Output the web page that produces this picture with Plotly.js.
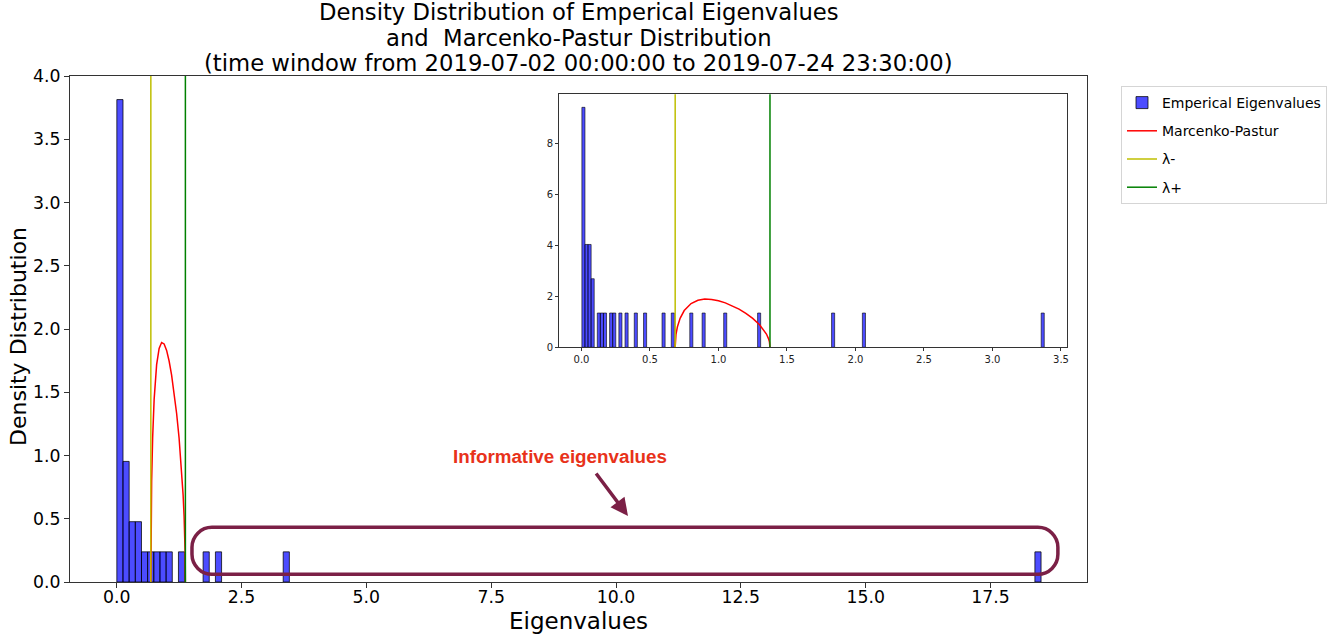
<!DOCTYPE html>
<html>
<head>
<meta charset="utf-8">
<script src="https://cdn.plot.ly/plotly-3.0.1.min.js"></script>
<style>html,body{margin:0;padding:0;background:#fff;}#chart{width:1340px;height:636px;}</style>
</head>
<body>
<div id="chart"></div>
<script>
const eigenvalues = [
  0.003, 0.006, 0.009, 0.012, 0.015, 0.019, 0.023,
  0.029, 0.036, 0.043,
  0.051, 0.058, 0.066,
  0.076, 0.087,
  0.124, 0.149, 0.172, 0.217, 0.239, 0.284, 0.329, 0.397, 0.464,
  0.599, 0.667, 0.802, 0.892, 1.053, 1.298,
  1.836, 2.060, 3.376,
  18.51
];
// Inset shows the eigenvalues without the largest one
const insetEigenvalues = eigenvalues.filter(v => v < 5);

// Marcenko-Pastur bounds
const lambdaMinus = 0.684;
const lambdaPlus = 1.376;

// Marcenko-Pastur density curve
const mpX = [0.684, 0.685, 0.690, 0.700, 0.720, 0.750, 0.800, 0.850, 0.900, 0.950, 1.000,
             1.050, 1.100, 1.150, 1.200, 1.250, 1.300, 1.330, 1.350, 1.365, 1.372, 1.376];
const mpY = [0.000, 0.241, 0.510, 0.798, 1.139, 1.443, 1.718, 1.847, 1.893, 1.882, 1.831,
             1.747, 1.636, 1.499, 1.334, 1.136, 0.886, 0.691, 0.521, 0.343, 0.213, 0.000];

// Tick labels
const mainXTicks = [0, 2.5, 5, 7.5, 10, 12.5, 15, 17.5];
const mainYTicks = [0, 0.5, 1, 1.5, 2, 2.5, 3, 3.5, 4];
const insetXTicks = [0, 0.5, 1, 1.5, 2, 2.5, 3, 3.5];
const insetYTicks = [0, 2, 4, 6, 8];

const titleLines = [
  'Density Distribution of Emperical Eigenvalues',
  'and  Marcenko-Pastur Distribution',
  '(time window from 2019-07-02 00:00:00 to 2019-07-24 23:30:00)'
];
const names = ['Emperical Eigenvalues', 'Marcenko-Pastur', 'λ-', 'λ+'];

const barFill = 'rgba(0,0,255,0.7)';
const barEdge = 'rgba(0,0,0,0.75)';
const red = '#ff0000', yel = '#bfbf00', grn = '#008000';

const traces = [
  {type: 'histogram', x: eigenvalues, histnorm: 'probability density',
   xbins: {start: 0.003, end: 18.52, size: 0.1234}, name: names[0], legendgroup: 'a',
   marker: {color: barFill, line: {color: barEdge, width: 1}}, xaxis: 'x', yaxis: 'y', hoverinfo: 'skip'},
  {type: 'scatter', mode: 'lines', x: mpX, y: mpY, name: names[1], legendgroup: 'b',
   line: {color: red, width: 1.5}, xaxis: 'x', yaxis: 'y'},
  {type: 'scatter', mode: 'lines', x: [lambdaMinus, lambdaMinus], y: [0, 100], name: names[2], legendgroup: 'c',
   line: {color: yel, width: 1.5}, xaxis: 'x', yaxis: 'y'},
  {type: 'scatter', mode: 'lines', x: [lambdaPlus, lambdaPlus], y: [0, 100], name: names[3], legendgroup: 'd',
   line: {color: grn, width: 1.5}, xaxis: 'x', yaxis: 'y'},
  // inset
  {type: 'histogram', x: insetEigenvalues, histnorm: 'probability density',
   xbins: {start: 0.003, end: 3.379, size: 0.0225}, showlegend: false,
   marker: {color: barFill, line: {color: barEdge, width: 0.8}}, xaxis: 'x2', yaxis: 'y2', hoverinfo: 'skip'},
  {type: 'scatter', mode: 'lines', x: mpX, y: mpY, showlegend: false,
   line: {color: red, width: 1.5}, xaxis: 'x2', yaxis: 'y2'},
  {type: 'scatter', mode: 'lines', x: [lambdaMinus, lambdaMinus], y: [0, 100], showlegend: false,
   line: {color: yel, width: 1.5}, xaxis: 'x2', yaxis: 'y2'},
  {type: 'scatter', mode: 'lines', x: [lambdaPlus, lambdaPlus], y: [0, 100], showlegend: false,
   line: {color: grn, width: 1.5}, xaxis: 'x2', yaxis: 'y2'}
];

// rounded rectangle around the informative eigenvalues
const rx0 = 1.508, rx1 = 18.85, ry0 = 0.061, ry1 = 0.432, cx = 0.40, cy = 0.158, k = 0.4477;
const roundPath =
  `M ${rx0 + cx},${ry1} L ${rx1 - cx},${ry1} ` +
  `C ${rx1 - cx * k},${ry1} ${rx1},${ry1 - cy * k} ${rx1},${ry1 - cy} ` +
  `L ${rx1},${ry0 + cy} ` +
  `C ${rx1},${ry0 + cy * k} ${rx1 - cx * k},${ry0} ${rx1 - cx},${ry0} ` +
  `L ${rx0 + cx},${ry0} ` +
  `C ${rx0 + cx * k},${ry0} ${rx0},${ry0 + cy * k} ${rx0},${ry0 + cy} ` +
  `L ${rx0},${ry1 - cy} ` +
  `C ${rx0},${ry1 - cy * k} ${rx0 + cx * k},${ry1} ${rx0 + cx},${ry1} Z`;

// pixel -> paper helpers for text placement (plot area 70..1087 x 76..582)
const px = v => (v - 70) / 1017;
const py = v => (582 - v) / 506;

const axisFont = {family: 'DejaVu Sans', size: 17.3, color: '#000'};
const titleFont = {family: 'DejaVu Sans', size: 22.7, color: '#000'};
const layout = {
  width: 1340, height: 636,
  paper_bgcolor: '#fff', plot_bgcolor: 'rgba(0,0,0,0)',
  margin: {l: 70, r: 253, t: 76, b: 54, pad: 0},
  barmode: 'overlay', bargap: 0,
  font: {family: 'DejaVu Sans', color: '#000'},
  showlegend: true,
  legend: {
    xref: 'container', yref: 'container',
    x: 1121 / 1340, y: (636 - 86) / 636, xanchor: 'left', yanchor: 'top',
    font: {family: 'DejaVu Sans', size: 14, color: '#000'},
    bordercolor: '#d5d5d5', borderwidth: 1, bgcolor: '#fff',
    tracegroupgap: 7, itemwidth: 30
  },
  xaxis: {
    domain: [0, 1], range: [-0.935, 19.433], anchor: 'y',
    tickvals: mainXTicks, ticktext: mainXTicks.map(v => v.toFixed(1)),
    ticks: 'outside', ticklen: 5, tickwidth: 1, tickcolor: '#333',
    ticklabelstandoff: -6,
    showline: true, mirror: true, linecolor: '#333', linewidth: 1,
    showgrid: false, zeroline: false, tickfont: axisFont
  },
  yaxis: {
    domain: [0, 1], range: [0, 4.0], anchor: 'x',
    tickvals: mainYTicks, ticktext: mainYTicks.map(v => v.toFixed(1)),
    ticks: 'outside', ticklen: 5, tickwidth: 1, tickcolor: '#333',
    showline: true, mirror: true, linecolor: '#333', linewidth: 1,
    showgrid: false, zeroline: false, tickfont: axisFont
  },
  xaxis2: {
    domain: [px(559), px(1067)], range: [-0.164, 3.544], anchor: 'y2',
    tickvals: insetXTicks, ticktext: insetXTicks.map(v => v.toFixed(1)),
    ticks: 'outside', ticklen: 3, tickwidth: 1, tickcolor: '#333',
    showline: true, mirror: true, linecolor: '#333', linewidth: 1,
    showgrid: false, zeroline: false,
    tickfont: {family: 'DejaVu Sans', size: 10, color: '#222'}
  },
  yaxis2: {
    domain: [py(347.3), py(94.3)], range: [0, 9.94], anchor: 'x2',
    tickvals: insetYTicks, ticktext: insetYTicks.map(v => String(v)),
    ticks: 'outside', ticklen: 3, tickwidth: 1, tickcolor: '#333',
    showline: true, mirror: true, linecolor: '#333', linewidth: 1,
    showgrid: false, zeroline: false,
    tickfont: {family: 'DejaVu Sans', size: 10, color: '#222'}
  },
  shapes: [
    {type: 'path', xref: 'x', yref: 'y', path: roundPath,
     line: {color: '#7b2046', width: 3.5}, fillcolor: 'rgba(0,0,0,0)', layer: 'above'}
  ],
  annotations: [
    {xref: 'paper', yref: 'paper', x: px(578.5), y: py(12.5), text: titleLines[0], showarrow: false,
     font: titleFont, xanchor: 'center', yanchor: 'middle'},
    {xref: 'paper', yref: 'paper', x: px(578.5), y: py(37.5), text: titleLines[1], showarrow: false,
     font: titleFont, xanchor: 'center', yanchor: 'middle'},
    {xref: 'paper', yref: 'paper', x: px(578.5), y: py(62.5), text: titleLines[2], showarrow: false,
     font: titleFont, xanchor: 'center', yanchor: 'middle'},
    {xref: 'paper', yref: 'paper', x: px(578.5), y: py(621), text: 'Eigenvalues', showarrow: false,
     font: {family: 'DejaVu Sans', size: 23, color: '#000'}, xanchor: 'center', yanchor: 'middle'},
    {xref: 'paper', yref: 'paper', x: px(18), y: py(337), text: 'Density Distribution', showarrow: false,
     textangle: -90, font: {family: 'DejaVu Sans', size: 22, color: '#000'}, xanchor: 'center', yanchor: 'middle'},
    {xref: 'paper', yref: 'paper', x: px(560), y: py(456),
     text: '<b>Informative eigenvalues</b>', showarrow: false,
     font: {family: 'Liberation Sans', size: 18.8, color: '#e8321a'}, xanchor: 'center', yanchor: 'middle'},
    {xref: 'paper', yref: 'paper', x: px(628), y: py(516),
     axref: 'pixel', ayref: 'pixel', ax: -33, ay: -44, text: '', showarrow: true,
     arrowhead: 2, arrowsize: 1, arrowwidth: 3.5, arrowcolor: '#7b2046', standoff: 0}
  ]
};

Plotly.newPlot('chart', traces, layout, {displayModeBar: false, staticPlot: true});
</script>
</body>
</html>
